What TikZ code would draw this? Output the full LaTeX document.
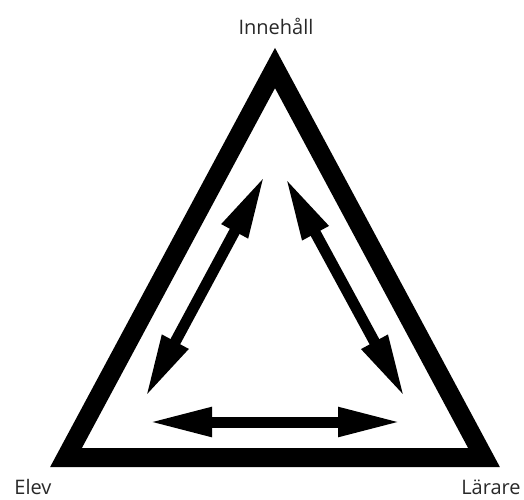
\documentclass[tikz,border=0pt]{standalone}
\usepackage{fontspec}
\setmainfont{Open Sans}
\usetikzlibrary{arrows.meta}
\definecolor{labelgray}{RGB}{40,40,40}
\tikzset{
  frame/.style={line width=19pt, line join=miter, draw=black},
  dblarrow/.style={line width=11pt, draw=black,
    {Triangle[length=64pt,width=27pt]}-{Triangle[length=64pt,width=27pt]}},
  lbl/.style={anchor=base, text=labelgray, font=\fontsize{20pt}{24pt}\selectfont, inner sep=0pt}
}
\begin{document}
\begin{tikzpicture}[x=1pt,y=-1pt]
\useasboundingbox (0,0) rectangle (524,499);
% triangle corners (centre line of the frame)
\coordinate (top) at (275,68);
\coordinate (bl) at (66,457.5);
\coordinate (br) at (484,457.5);
\draw[frame] (top) -- (bl) -- (br) -- cycle;
% arrow ends
\coordinate (la) at (265,175);
\coordinate (lb) at (145,398);
\coordinate (ra) at (285,177);
\coordinate (rb) at (405,398);
\coordinate (ba) at (148,422);
\coordinate (bb) at (402,422);
\draw[dblarrow] (la) -- (lb);
\draw[dblarrow] (ra) -- (rb);
\draw[dblarrow] (ba) -- (bb);
% labels
\node[lbl] (innehall) at (276,34) {Innehåll};
\node[lbl] (elev) at (33,494) {Elev};
\node[lbl] (larare) at (491,494) {Lärare};
\end{tikzpicture}
\end{document}
